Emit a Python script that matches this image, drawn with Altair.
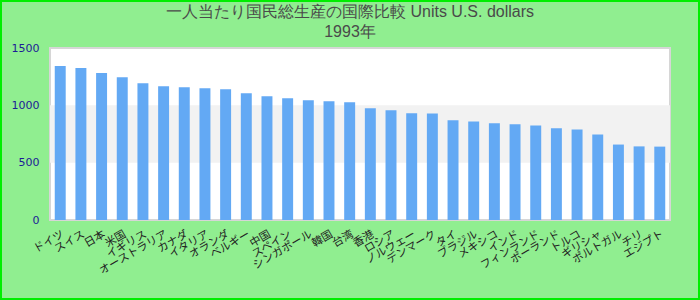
import altair as alt
import pandas as pd

categories = [
    "ドイツ", "スイス", "日本", "米国", "イギリス", "オーストラリア", "カナダ",
    "イタリア", "オランダ", "ベルギー", "中国", "スペイン", "シンガポール", "韓国",
    "台湾", "香港", "ロシア", "ノルウェー", "デンマーク", "タイ", "ブラジル",
    "メキシコ", "インド", "フィンランド", "ポーランド", "トルコ", "ギリシャ",
    "ポルトガル", "チリ", "エジプト",
]
values = [
    1342, 1325, 1281, 1246, 1193, 1167, 1158, 1149, 1140, 1105,
    1079, 1061, 1044, 1035, 1026, 974, 958, 930, 928, 870,
    860, 843, 835, 825, 800, 790, 746, 658, 642, 640,
]
band_start = [500]
band_end = [1000]
title_lines = ["一人当たり国民総生産の国際比較 Units U.S. dollars", "1993年"]

df = pd.DataFrame({"name": categories, "value": values})
bands = pd.DataFrame({"y": band_start, "y2": band_end})

y_scale = alt.Scale(domain=[0, 1500])

border = alt.Chart(pd.DataFrame({"a": [0]})).mark_rect(
    fill=None, stroke="#00ee00", strokeWidth=2
).encode(
    x=alt.value(-49), x2=alt.value(649), y=alt.value(-47), y2=alt.value(251)
)

band = alt.Chart(bands).mark_rect(color="#f2f2f2").encode(
    x=alt.value(0),
    x2=alt.value("width"),
    y=alt.Y("y:Q", scale=y_scale),
    y2="y2:Q",
)

bars = alt.Chart(df).mark_bar(color="#63a9f4").encode(
    x=alt.X(
        "name:N",
        sort=None,
        scale=alt.Scale(paddingInner=0.47, paddingOuter=0.23),
        axis=alt.Axis(
            title=None,
            labelAngle=-30,
            labelFontSize=11,
            labelFont="Noto Sans CJK JP",
            labelColor="#222222",
            ticks=False,
            domain=False,
            labelPadding=8,
            labelOverlap=False,
        ),
    ),
    y=alt.Y(
        "value:Q",
        scale=y_scale,
        axis=alt.Axis(
            title=None,
            values=[0, 500, 1000, 1500],
            format="d",
            grid=False,
            ticks=False,
            domain=False,
            labelColor="#1c1c96",
            labelFont="DejaVu Sans",
            labelFontSize=11,
            labelPadding=11,
        ),
    ),
)

chart = alt.layer(border, band, bars).properties(
    width=620,
    height=172,
    background="#90ee90",
    padding={"left": 50, "top": 48, "right": 30, "bottom": 80},
    autosize=alt.AutoSizeParams(type="none"),
    title=alt.TitleParams(
        title_lines,
        fontSize=16,
        font="Liberation Sans",
        fontWeight="normal",
        color="#4a4a4a",
        anchor="middle",
        dx=-10,
        dy=48,
        offset=8,
        lineHeight=20,
    ),
).configure_view(
    fill="white", stroke="#d6d6d6", strokeWidth=2
)

chart.save("out.html", embed_options={"renderer": "svg", "actions": False})
